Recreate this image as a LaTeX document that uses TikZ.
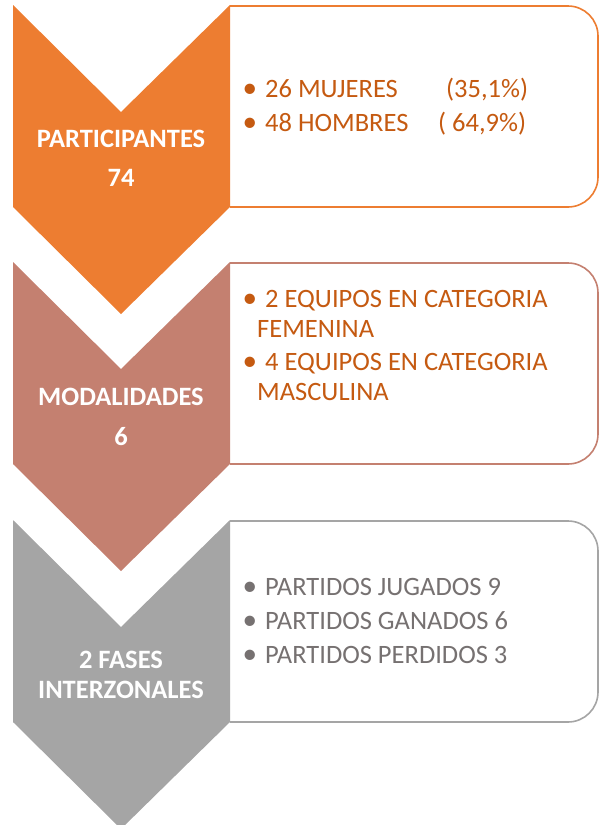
\documentclass[tikz,border=0pt]{standalone}
\usepackage{fontspec}
\setmainfont{Carlito}
\definecolor{orangefill}{HTML}{ED7D31}
\definecolor{rosefill}{HTML}{C48070}
\definecolor{grayfill}{HTML}{A5A5A5}
\definecolor{orangetext}{HTML}{C55A11}
\definecolor{graytext}{HTML}{767171}
\tikzset{stagebox/.style={draw=#1, line width=1.6pt, rounded corners=30pt, fill=white}}
\tikzset{chevron/.style={fill=#1, draw=none}}
\tikzset{stagelabel/.style={anchor=base, inner sep=0pt, text=white, font=\fontsize{26.5}{30}\selectfont\bfseries}}
\tikzset{itemtext/.style={anchor=base west, inner sep=0pt, text=#1, font=\fontsize{26.5}{30}\selectfont}}
\newcommand{\itembullet}{\makebox[20pt][l]{\hspace{-2.5pt}\scalebox{1.1}{\textbullet}}}

\begin{document}
\begin{tikzpicture}[x=1pt, y=-1pt]
    \useasboundingbox (0,0) rectangle (600,825);
    \foreach \t/\col in {5/orangefill, 262/rosefill, 520/grayfill} {
        \draw[stagebox=\col] (230,\t+1) -- (598,\t+1) -- (598,\t+202) -- (230,\t+202);
        \fill[chevron=\col] (13,\t) -- (121,\t+107) -- (230,\t) -- (230,\t+202)
            -- (121,\t+309) -- (13,\t+202) -- cycle;
    }
    % labels
    \node[stagelabel] (part) at (121,147) {PARTICIPANTES};
    \node[stagelabel] (partnum) at (121,186) {74};
    \node[stagelabel] (moda) at (121,405) {MODALIDADES};
    \node[stagelabel] (modanum) at (121,445) {6};
    \node[stagelabel] (fases) at (121,668) {2 FASES};
    \node[stagelabel] (fasesb) at (121,698) {INTERZONALES};
    % items
    \node[itemtext=orangetext] (muj) at (245,97) {\itembullet\makebox[181pt][l]{26 MUJERES}(35,1\%)};
    \node[itemtext=orangetext] (hom) at (245,131) {\itembullet\makebox[173pt][l]{48 HOMBRES}( 64,9\%)};
    \node[itemtext=orangetext] (fem) at (245,307) {\itembullet 2 EQUIPOS EN CATEGORIA};
    \node[itemtext=orangetext] (femb) at (257,337) {FEMENINA};
    \node[itemtext=orangetext] (mas) at (245,370) {\itembullet 4 EQUIPOS EN CATEGORIA};
    \node[itemtext=orangetext] (masb) at (257,400) {MASCULINA};
    \node[itemtext=graytext] (jug) at (245,595) {\itembullet PARTIDOS JUGADOS 9};
    \node[itemtext=graytext] (gan) at (245,629) {\itembullet PARTIDOS GANADOS 6};
    \node[itemtext=graytext] (per) at (245,663) {\itembullet PARTIDOS PERDIDOS 3};
\end{tikzpicture}
\end{document}
